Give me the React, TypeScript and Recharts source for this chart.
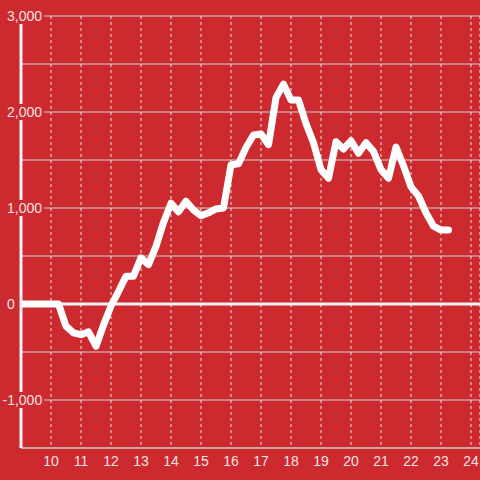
import React from "react";
import {
  LineChart,
  Line,
  XAxis,
  YAxis,
  CartesianGrid,
  ReferenceLine,
} from "recharts";

const HOURS = [
  9, 9.25, 9.5, 9.75, 10, 10.25, 10.5, 10.75, 11, 11.25, 11.5, 11.75, 12, 12.25,
  12.5, 12.75, 13, 13.25, 13.5, 13.75, 14, 14.25, 14.5, 14.75, 15, 15.25, 15.5,
  15.75, 16, 16.25, 16.5, 16.75, 17, 17.25, 17.5, 17.75, 18, 18.25, 18.5, 18.75,
  19, 19.25, 19.5, 19.75, 20, 20.25, 20.5, 20.75, 21, 21.25, 21.5, 21.75, 22,
  22.25, 22.5, 22.75, 23, 23.25,
];

const VALUES = [
  0, 0, 0, 0, 0, 0, -230, -300, -320, -290, -440, -220, -20, 130, 290, 290, 480,
  410, 600, 850, 1050, 960, 1070, 980, 920, 950, 990, 1000, 1450, 1460, 1630,
  1760, 1770, 1660, 2150, 2290, 2125, 2125, 1880, 1680, 1400, 1310, 1690, 1615,
  1700, 1570, 1680, 1590, 1400, 1310, 1635, 1440, 1220, 1125, 950, 810, 770, 770,
];

const X_TICKS = [10, 11, 12, 13, 14, 15, 16, 17, 18, 19, 20, 21, 22, 23, 24];
const Y_TICKS = [-1500, -1000, -500, 0, 500, 1000, 1500, 2000, 2500, 3000];
const Y_LABELED = [-1000, 0, 1000, 2000, 3000];

const BG = "#CD2A30";
const LABEL = "#F5E3E3";
const GRID = "#CFCFCF";
const FONT = "'Liberation Sans', Arial, sans-serif";

const data = HOURS.map((h, i) => ({ hour: h, value: VALUES[i] }));

const charW = (c: string) => (c === "," ? 3.89 : c === "-" ? 4.66 : 7.79);
const textWidth = (s: string) =>
  s.split("").reduce((acc, c) => acc + charW(c), 0);

const YTick = (props: any) => {
  const { y, payload } = props;
  const v = payload.value;
  if (!Y_LABELED.includes(v)) return <g />;
  const label = v.toLocaleString("en-US");
  const w = textWidth(label);
  const tx = v < 0 ? 2.5 : 7;
  return (
    <g>
      <rect x={tx - 2} y={y - 8} width={w + 4} height={16} fill={BG} />
      <text x={tx} y={y + 5} fill={LABEL} fontSize={14} fontFamily={FONT}>
        {label}
      </text>
    </g>
  );
};

const XTick = (props: any) => {
  const { x, payload } = props;
  return (
    <text
      x={x}
      y={466}
      fill={LABEL}
      fontSize={14}
      fontFamily={FONT}
      textAnchor="middle"
    >
      {payload.value}
    </text>
  );
};

export default function App() {
  return (
    <div
      style={{
        position: "absolute",
        left: 0,
        top: 0,
        width: 480,
        height: 480,
        background: BG,
      }}
    >
      <LineChart
        width={480}
        height={480}
        data={data}
        margin={{ top: 16, right: 0, bottom: 0, left: 0 }}
      >
        <CartesianGrid horizontal={true} vertical={false} stroke={GRID} strokeWidth={1} />
        <CartesianGrid
          horizontal={false}
          vertical={true}
          stroke="#E6E6E6"
          strokeDasharray="3 3"
          strokeWidth={1}
        />
        <XAxis
          type="number"
          dataKey="hour"
          domain={[9, 24.3]}
          ticks={X_TICKS}
          allowDataOverflow
          height={32}
          axisLine={{ stroke: GRID, strokeWidth: 1 }}
          tickLine={false}
          tick={<XTick />}
          interval={0}
        />
        <YAxis
          type="number"
          domain={[-1500, 3000]}
          ticks={Y_TICKS}
          allowDataOverflow
          width={21}
          axisLine={{ stroke: "#F2F2F2", strokeWidth: 3 }}
          tickLine={false}
          tick={<YTick />}
          interval={0}
        />
        <ReferenceLine y={0} stroke="#F5F5F5" strokeWidth={3} />
        <Line
          type="linear"
          dataKey="value"
          stroke="#FFFFFF"
          strokeWidth={7}
          strokeLinejoin="round"
          strokeLinecap="round"
          dot={false}
          activeDot={false}
          isAnimationActive={false}
        />
      </LineChart>
    </div>
  );
}
